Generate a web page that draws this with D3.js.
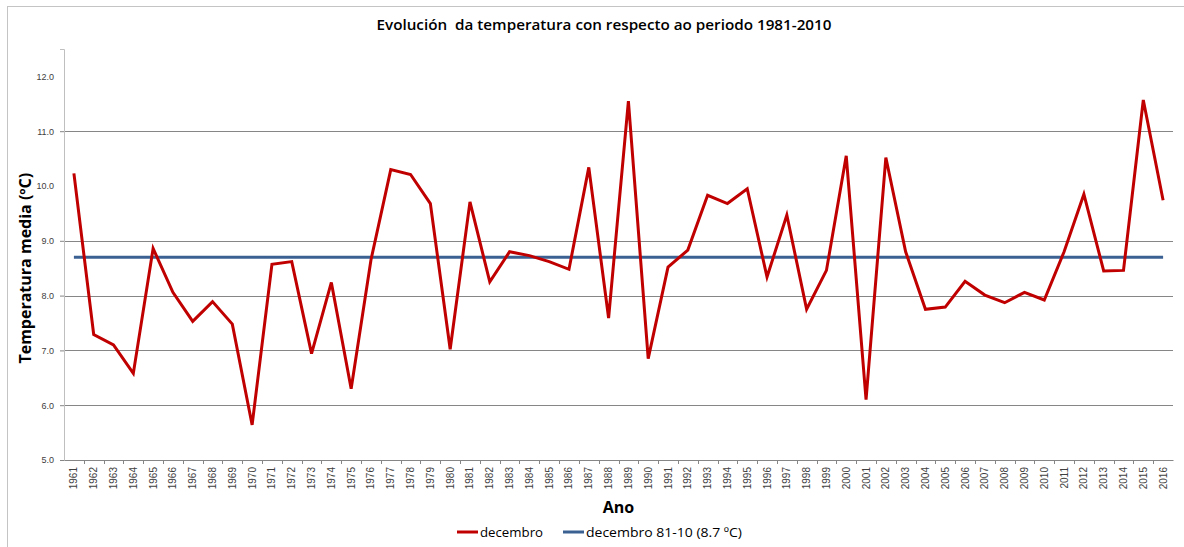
<!DOCTYPE html>
<html>
<head>
<meta charset="utf-8">
<script src="https://cdn.jsdelivr.net/npm/d3@7"></script>
<style>
  body { margin: 0; background: #fff; }
  svg { display: block; }
</style>
</head>
<body>
<div id="chart-area"></div>
<script>
/*
 *    december temperature line chart vs 1981-2010 normal
 */

const years = [
  "1961", "1962", "1963", "1964", "1965", "1966", "1967", "1968", "1969", "1970",
  "1971", "1972", "1973", "1974", "1975", "1976", "1977", "1978", "1979", "1980",
  "1981", "1982", "1983", "1984", "1985", "1986", "1987", "1988", "1989", "1990",
  "1991", "1992", "1993", "1994", "1995", "1996", "1997", "1998", "1999", "2000",
  "2001", "2002", "2003", "2004", "2005", "2006", "2007", "2008", "2009", "2010",
  "2011", "2012", "2013", "2014", "2015", "2016",
];

const decembro = [
  10.23, 7.29, 7.1, 6.58, 8.86, 8.06, 7.53, 7.89, 7.48, 5.64,
  8.57, 8.62, 6.94, 8.24, 6.3, 8.65, 10.3, 10.21, 9.68, 7.02,
  9.71, 8.25, 8.8, 8.73, 8.62, 8.48, 10.34, 7.59, 11.55, 6.85,
  8.52, 8.83, 9.83, 9.68, 9.95, 8.34, 9.47, 7.75, 8.46, 10.55,
  6.1, 10.52, 8.8, 7.75, 7.79, 8.26, 8.01, 7.87, 8.06, 7.92,
  8.8, 9.85, 8.45, 8.46, 11.57, 9.74,
];

const normal8110 = 8.7;

const yTicks = [5, 6, 7, 8, 9, 10, 11, 12];
// gridlines that are visible in the original picture
const gridValues = [6, 7, 8, 9, 11];

const seriesNames = ["decembro", "decembro 81-10 (8.7 ºC)"];

const TITLE = "Evolución  da temperatura con respecto ao periodo 1981-2010";
const Y_TITLE = "Temperatura media (ºC)";
const X_TITLE = "Ano";

const SVG_W = 1184;
const SVG_H = 547;
const MARGIN = { LEFT: 64, RIGHT: 11, TOP: 49, BOTTOM: 87 };
const WIDTH = SVG_W - MARGIN.LEFT - MARGIN.RIGHT;
const HEIGHT = SVG_H - MARGIN.TOP - MARGIN.BOTTOM;

const COLORS = { decembro: "#C00000", normal: "#3B6193" };
const FONT = "'Open Sans', 'Liberation Sans', sans-serif";
const TICK_FONT = "'Liberation Sans', Arial, sans-serif";

class TemperatureChart {
  constructor(_chartLocation) {
    this.chartLocation = _chartLocation;
    this.initVis();
  }

  initVis() {
    const vis = this;

    vis.svg = d3
      .select(vis.chartLocation)
      .append("svg")
      .attr("width", SVG_W)
      .attr("height", SVG_H);

    // chart frame
    vis.svg
      .append("rect")
      .attr("x", 7.5)
      .attr("y", 6.5)
      .attr("width", SVG_W + 10)
      .attr("height", SVG_H + 10)
      .attr("fill", "none")
      .attr("stroke", "#c4c4c4")
      .attr("stroke-width", 1);

    vis.svg
      .append("text")
      .attr("x", 604)
      .attr("y", 30)
      .attr("text-anchor", "middle")
      .attr("textLength", 455)
      .attr("lengthAdjust", "spacingAndGlyphs")
      .style("font-family", FONT)
      .style("font-weight", "600")
      .style("font-size", "15px")
      .style("fill", "#000")
      .style("white-space", "pre")
      .text(TITLE);

    vis.g = vis.svg
      .append("g")
      .attr("transform", `translate(${MARGIN.LEFT}, ${MARGIN.TOP})`);

    vis.x = d3.scaleBand().domain(years).range([0, WIDTH]).padding(0);
    vis.y = d3.scaleLinear().domain([5, 12.5]).range([HEIGHT, 0]);

    // gridlines
    vis.g
      .append("g")
      .attr("class", "grid")
      .selectAll("line")
      .data(gridValues)
      .enter()
      .append("line")
      .attr("x1", 0)
      .attr("x2", WIDTH)
      .attr("y1", (d) => Math.round(vis.y(d)) + 0.5)
      .attr("y2", (d) => Math.round(vis.y(d)) + 0.5)
      .attr("stroke", "#868686")
      .attr("stroke-width", 1);

    // y axis
    vis.yAxisCall = d3
      .axisLeft(vis.y)
      .tickValues(yTicks)
      .tickFormat(d3.format(".1f"))
      .tickSize(4)
      .tickPadding(6);

    vis.yAxis = vis.g.append("g").attr("class", "y axis").call(vis.yAxisCall);
    vis.yAxis.select(".domain").attr("stroke", "#bfbfbf");
    vis.yAxis
      .selectAll(".tick line")
      .attr("stroke", (d) => (gridValues.includes(d) || d === 5 ? "#868686" : "none"));
    vis.yAxis
      .selectAll(".tick text")
      .style("font-family", TICK_FONT)
      .style("font-size", "9px")
      .style("fill", "#404040");

    // x axis
    vis.xAxisCall = d3.axisBottom(vis.x).tickSize(0).tickPadding(5);
    vis.xAxis = vis.g
      .append("g")
      .attr("class", "x axis")
      .attr("transform", `translate(0, ${HEIGHT})`)
      .call(vis.xAxisCall);
    vis.xAxis.select(".domain").attr("stroke", "#868686");
    vis.xAxis
      .selectAll(".tick text")
      .attr("transform", "rotate(-90)")
      .attr("x", -7)
      .attr("y", 0)
      .attr("dy", "0.35em")
      .attr("text-anchor", "end")
      .style("font-family", TICK_FONT)
      .style("font-size", "10px")
      .style("fill", "#404040");

    // tick marks between categories
    vis.xAxis
      .append("g")
      .selectAll("line")
      .data(years.slice(1))
      .enter()
      .append("line")
      .attr("x1", (d) => Math.round(vis.x(d)) + 0.5)
      .attr("x2", (d) => Math.round(vis.x(d)) + 0.5)
      .attr("y1", 0)
      .attr("y2", 4)
      .attr("stroke", "#868686");

    // axis titles
    vis.g
      .append("text")
      .attr("x", WIDTH / 2)
      .attr("y", HEIGHT + 53)
      .attr("text-anchor", "middle")
      .style("font-family", FONT)
      .style("font-weight", "bold")
      .style("font-size", "16px")
      .text(X_TITLE);

    vis.g
      .append("text")
      .attr("transform", "rotate(-90)")
      .attr("x", -(vis.y(5) + vis.y(12)) / 2)
      .attr("y", -33)
      .attr("text-anchor", "middle")
      .style("font-family", FONT)
      .style("font-weight", "bold")
      .style("font-size", "16px")
      .text(Y_TITLE);

    vis.line = d3
      .line()
      .x((d) => vis.x(d.year) + vis.x.bandwidth() / 2)
      .y((d) => vis.y(d.value));

    vis.wrangleData();
  }

  wrangleData() {
    const vis = this;
    vis.dataRed = years.map((year, i) => ({ year, value: decembro[i] }));
    vis.dataNormal = years.map((year) => ({ year, value: normal8110 }));
    vis.updateVis();
  }

  updateVis() {
    const vis = this;

    vis.g
      .append("path")
      .attr("d", vis.line(vis.dataNormal))
      .attr("fill", "none")
      .attr("stroke", COLORS.normal)
      .attr("stroke-width", 3);

    vis.g
      .append("path")
      .attr("d", vis.line(vis.dataRed))
      .attr("fill", "none")
      .attr("stroke", COLORS.decembro)
      .attr("stroke-width", 3)
      .attr("stroke-linejoin", "miter");

    // legend
    const legendItems = [
      { name: seriesNames[0], color: COLORS.decembro, x: 457, len: 63 },
      { name: seriesNames[1], color: COLORS.normal, x: 563, len: 156 },
    ];

    vis.legend = vis.svg
      .append("g")
      .attr("class", "legend")
      .selectAll("g")
      .data(legendItems)
      .enter()
      .append("g")
      .attr("transform", (d) => `translate(${d.x}, 532)`);

    vis.legend
      .append("line")
      .attr("x1", 0)
      .attr("x2", 21)
      .attr("stroke", (d) => d.color)
      .attr("stroke-width", 3);

    vis.legend
      .append("text")
      .attr("x", 23)
      .attr("y", 5)
      .attr("textLength", (d) => d.len)
      .attr("lengthAdjust", "spacingAndGlyphs")
      .style("font-family", FONT)
      .style("font-size", "13px")
      .style("fill", "#000")
      .text((d) => d.name);
  }
}

new TemperatureChart("#chart-area");
</script>
</body>
</html>
